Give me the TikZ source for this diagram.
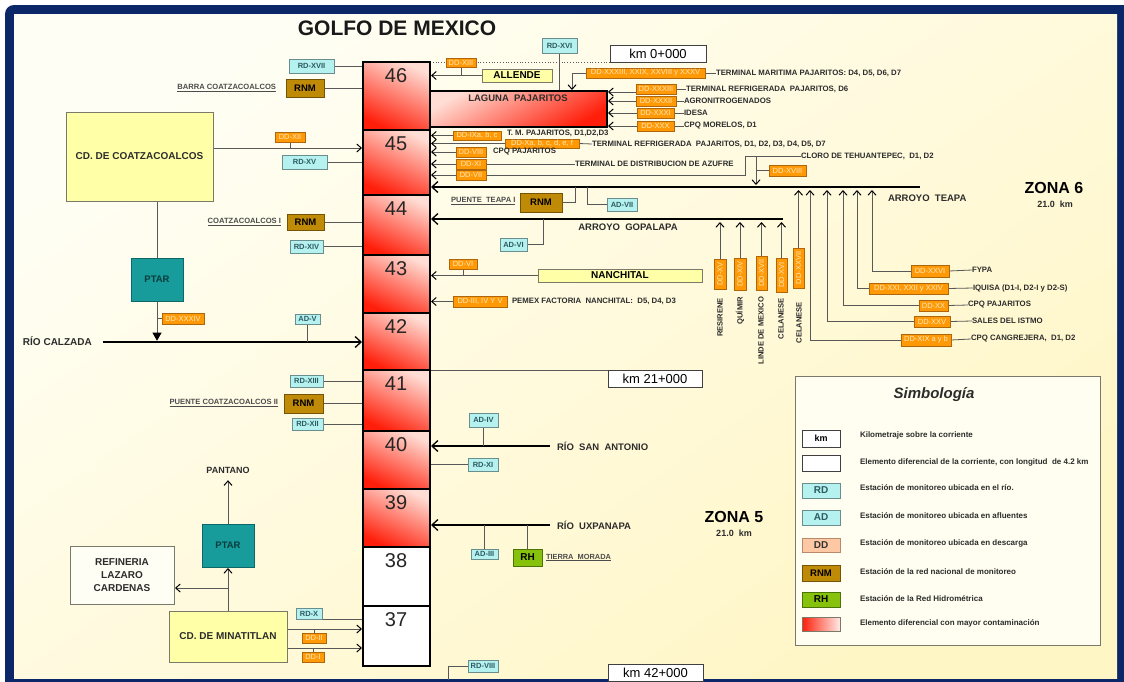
\documentclass[tikz,border=0pt]{standalone}
\usepackage{fontspec}
\setmainfont{Liberation Sans}
\usetikzlibrary{arrows.meta}

\definecolor{frameC}{HTML}{0B2768}
\definecolor{creamA}{HTML}{FFFEF4}
\definecolor{creamB}{HTML}{FFF6C6}
\definecolor{legF}{HTML}{FFFEF0}
\definecolor{cyanF}{HTML}{B4F1EF}
\definecolor{cyanD}{HTML}{6A8E8E}
\definecolor{cyanT}{HTML}{2E5A62}
\definecolor{ddF}{HTML}{FF9A06}
\definecolor{ddD}{HTML}{B0660A}
\definecolor{ddT}{HTML}{FFE8BC}
\definecolor{peachF}{HTML}{FFC8A4}
\definecolor{peachD}{HTML}{B88A6A}
\definecolor{rnmF}{HTML}{BF8A05}
\definecolor{rnmD}{HTML}{765405}
\definecolor{yelF}{HTML}{FFFFA8}
\definecolor{tealF}{HTML}{179B9B}
\definecolor{tealD}{HTML}{0D6868}
\definecolor{tealT}{HTML}{0A3C3C}
\definecolor{rhF}{HTML}{86C10C}
\definecolor{rhD}{HTML}{4C7406}
\definecolor{hotA}{HTML}{FF1E0A}
\definecolor{hotB}{HTML}{FFDDD4}
\definecolor{ink}{HTML}{2C2C2C}
\definecolor{wireC}{HTML}{585858}
\definecolor{boxD}{HTML}{7A7A6A}

\newcommand\fsz[1]{\fontsize{#1}{#1}\selectfont}
\pgfdeclarelayer{back}
\pgfdeclarelayer{wires}
\pgfsetlayers{back,wires,main}

\tikzset{
  every node/.style={inner sep=0pt, outer sep=0pt},
  wh/.style 2 args={minimum width=#1pt, minimum height=#2pt},
  nw/.style={anchor=north west},
  seghot/.style={draw=black, line width=2.2pt, top color=hotB, bottom color=hotA, shading angle=-25},
  segcold/.style={draw=black, line width=2.2pt, fill=white},
  num/.style={font=\fsz{20}, text=black!85},
  rd/.style={draw=cyanD, line width=.7pt, fill=cyanF, text=cyanT, font=\bfseries\fsz{7.5}},
  dd/.style={draw=ddD, line width=.7pt, fill=ddF, text=ddT, font=\fsz{7.5}},
  ddv/.style={dd, rotate=90},
  rnm/.style={draw=rnmD, line width=.7pt, fill=rnmF, text=black, font=\bfseries\fsz{9.5}},
  ybox/.style={draw=boxD, line width=.7pt, fill=yelF, text=black, font=\bfseries\fsz{10}},
  city/.style={draw=boxD, line width=.8pt, fill=yelF, text=ink, font=\bfseries\fsz{10}},
  ptar/.style={draw=tealD, line width=.8pt, fill=tealF, text=tealT, font=\bfseries\fsz{9.5}},
  rh/.style={draw=rhD, line width=.7pt, fill=rhF, text=black, font=\bfseries\fsz{10}},
  kmbox/.style={draw=black!75, line width=.8pt, fill=white, font=\fsz{13}},
  lbl/.style={text=ink, font=\bfseries\fsz{7.8}, anchor=west},
  vlbl/.style={text=ink, font=\bfseries\fsz{7.6}, rotate=90, anchor=east},
  stn/.style={text=ink!85, font=\bfseries\fsz{7.6}, anchor=east},
  rivlbl/.style={text=ink, font=\bfseries\fsz{10}, anchor=west},
  zona/.style={text=black, font=\bfseries\fsz{16}},
  zkm/.style={text=ink, font=\bfseries\fsz{9}},
  legtxt/.style={text=ink, font=\bfseries\fsz{8}, anchor=west},
  wire/.style={draw=wireC, line width=.8pt},
  arr/.style={wire, shorten >=1pt, -{Straight Barb[length=4.5pt,width=8pt,line width=1pt,color=black]}},
  riv/.style={draw=black, line width=2.6pt, shorten >=1pt, -{Straight Barb[length=6pt,width=11pt,line width=1.3pt]}},
}

\begin{document}
\begin{tikzpicture}[x=1pt,y=-1pt]
\useasboundingbox (0,0) rectangle (1124,681);

% frame and paper
\begin{pgfonlayer}{back}
  \fill[white] (0,0) rectangle (1124,681);
  \fill[frameC, rounded corners=9pt] (5,5) rectangle (1140,700);
  \shade[top color=creamA, bottom color=creamB, shading angle=35] (14,14) rectangle (1117,678);
\end{pgfonlayer}

\node[font=\bfseries\fsz{21}, text=black!90] (title) at (397,28) {GOLFO DE MEXICO};

% river column, one segment per 4.2 km
\node[seghot, wh={67}{68}, nw] (s46) at (363,62) {};
\node[seghot, wh={67}{65}, nw] (s45) at (363,130) {};
\node[seghot, wh={67}{60}, nw] (s44) at (363,195) {};
\node[seghot, wh={67}{58}, nw] (s43) at (363,255) {};
\node[seghot, wh={67}{57}, nw] (s42) at (363,313) {};
\node[seghot, wh={67}{61}, nw] (s41) at (363,370) {};
\node[seghot, wh={67}{58}, nw] (s40) at (363,431) {};
\node[seghot, wh={67}{58}, nw] (s39) at (363,489) {};
\node[segcold, wh={67}{59}, nw] (s38) at (363,547) {};
\node[segcold, wh={67}{60}, nw] (s37) at (363,606) {};
\node[num] (n46) at (396,76) {46};
\node[num] (n45) at (396,144) {45};
\node[num] (n44) at (396,209) {44};
\node[num] (n43) at (396,269) {43};
\node[num] (n42) at (396,327) {42};
\node[num] (n41) at (396,384) {41};
\node[num] (n40) at (396,445) {40};
\node[num] (n39) at (396,503) {39};
\node[num] (n38) at (396,561) {38};
\node[num] (n37) at (396,620) {37};

% kilometre marks
\node[kmbox, wh={96}{17}, nw] (km0) at (610,45) {km 0+000};
\node[kmbox, wh={94}{17}, nw] (km21) at (608,370) {km 21+000};
\node[kmbox, wh={95}{17}, nw] (km42) at (608,664) {km 42+000};

% Laguna Pajaritos
\node[draw=black, line width=2pt, top color=hotB, bottom color=hotA, shading angle=30, wh={177}{36}, nw] (lag) at (430,91) {};
\node[font=\bfseries\fsz{9.5}, text=ink] (lagT) at (518,98) {LAGUNA\ \ PAJARITOS};

% left bank
\node[rd, wh={45}{14}, nw] (rd17) at (289,59) {RD-XVII};
\node[rnm, wh={38}{18}, nw] (rnmA) at (286,79) {RNM};
\node[stn] (stA) at (276,88) {\underline{BARRA COATZACOALCOS}};
\node[city, wh={147}{89}, nw] (cdC) at (66,112) {CD. DE COATZACOALCOS};
\node[dd, wh={30}{10}, nw] (dd12) at (275,132) {DD-XII};
\node[rd, wh={45}{14}, nw] (rd15) at (282,155) {RD-XV};
\node[ptar, wh={52}{43}, nw] (ptar1) at (131,258) {PTAR};
\node[dd, wh={42}{11}, nw] (dd34) at (162,313) {DD-XXXIV};
\node[rd, wh={25}{10}, nw] (adV) at (295,314) {AD-V};
\node[rivlbl] (calz) at (23,341) {RÍO CALZADA};
\coordinate (calzW) at (103,342);
\node[stn] (stC1) at (281,222) {\underline{COATZACOALCOS I}};
\node[rnm, wh={37}{16}, nw] (rnmC1) at (287,214) {RNM};
\node[rd, wh={33}{13}, nw] (rd14) at (290,240) {RD-XIV};
\node[rd, wh={33}{12}, nw] (rd13) at (290,375) {RD-XIII};
\node[stn] (stC2) at (278,403) {\underline{PUENTE COATZACOALCOS II}};
\node[rnm, wh={39}{19}, nw] (rnmC2) at (284,394) {RNM};
\node[rd, wh={31}{12}, nw] (rd12) at (292,418) {RD-XII};

\node[font=\bfseries\fsz{9}, text=ink] (pant) at (228,470) {PANTANO};
\node[ptar, wh={52}{43}, nw] (ptar2) at (202,524) {PTAR};
\node[draw=boxD, line width=.8pt, fill=creamA, text=ink, font=\bfseries\fontsize{10}{13}\selectfont, align=center, wh={104}{58}, nw] (refi) at (70,546) {REFINERIA\\LAZARO\\CARDENAS};
\node[city, wh={118}{51}, nw] (cdM) at (169,611) {CD. DE MINATITLAN};
\node[rd, wh={26}{11}, nw] (rdX) at (296,608) {RD-X};
\node[dd, wh={24}{10}, nw] (dd2) at (302,633) {DD-II};
\node[dd, wh={22}{10}, nw] (dd1) at (302,652) {DD-I};

% right bank, segment 46 and the lagoon
\node[dd, wh={30}{9}, nw] (dd13) at (446,58) {DD-XIII};
\node[ybox, wh={70}{13}, nw] (allende) at (482,69) {ALLENDE};
\node[rd, wh={35}{15}, nw] (rd16) at (542,38) {RD-XVI};
\node[dd, wh={119}{10}, nw] (ddM) at (586,68) {DD-XXXIII, XXIX,\ XXVIII\ y\ XXXV};
\node[lbl] (tTM) at (716,73) {TERMINAL MARITIMA PAJARITOS: D4, D5, D6, D7};
\node[dd, wh={40}{10}, nw] (dd33) at (636,84) {DD-XXXIII};
\node[dd, wh={40}{10}, nw] (dd32) at (636,96) {DD-XXXII};
\node[dd, wh={37}{10}, nw] (dd31) at (637,108) {DD-XXXI};
\node[dd, wh={37}{10}, nw] (dd30) at (637,121) {DD-XXX};
\node[lbl] (t33) at (686,89) {TERMINAL REFRIGERADA\ \ PAJARITOS, D6};
\node[lbl] (t32) at (684,101) {AGRONITROGENADOS};
\node[lbl] (t31) at (684,113) {IDESA};
\node[lbl] (t30) at (684,126) {CPQ MORELOS, D1};

% right bank, segment 45
\node[dd, wh={48}{9}, nw] (dd9) at (453,131) {DD-IXa, b, c};
\node[lbl] (t9) at (507,133) {T. M. PAJARITOS, D1,D2,D3};
\node[dd, wh={74}{9}, nw] (dd10) at (505,139) {DD-Xa, b, c, d, e, f};
\node[lbl] (t10) at (592,144) {TERMINAL REFRIGERADA\ \ PAJARITOS, D1, D2, D3, D4, D5, D7};
\node[dd, wh={30}{10}, nw] (dd8) at (456,147) {DD-VIII};
\node[lbl] (t8) at (493,152) {CPQ PAJARITOS};
\node[dd, wh={30}{10}, nw] (dd11) at (456,159) {DD-XI};
\node[lbl] (tAz) at (575,164) {TERMINAL DE DISTRIBUCION DE AZUFRE};
\node[dd, wh={30}{10}, nw] (dd7) at (456,170) {DD-VII};
\node[lbl] (tCl) at (801,156) {CLORO DE TEHUANTEPEC,\ \ D1, D2};
\node[dd, wh={37}{11}, nw] (dd18) at (769,165) {DD-XVIII};
\coordinate (cb) at (745,175);
\coordinate (cj) at (756,156);

% Arroyo Teapa
\coordinate (teapaE) at (920,187);
\node[rivlbl, font=\bfseries\fsz{9.5}] (tTeapa) at (888,198) {ARROYO\ \ TEAPA};
\node[stn, anchor=west] (stPT) at (451,201) {\underline{PUENTE\ \ TEAPA I}};
\node[rnm, wh={42}{19}, nw] (rnmPT) at (520,193) {RNM};
\node[rd, wh={30}{13}, nw] (adVII) at (607,198) {AD-VII};
\node[dd, wh={38}{12}, nw] (dd26) at (911,265) {DD-XXVI};
\node[dd, wh={79}{11}, nw] (dd21) at (869,283) {DD-XXI, XXII y XXIV};
\node[dd, wh={29}{11}, nw] (dd20) at (919,300) {DD-XX};
\node[dd, wh={36}{11}, nw] (dd25) at (914,316) {DD-XXV};
\node[dd, wh={50}{12}, nw] (dd19) at (901,334) {DD-XIX a y b};
\node[ddv, wh={40}{11}] (dd27) at (798.5,268) {DD-XXVII};
\node[vlbl] (vCel2) at (799,302) {CELANESE};
\node[lbl] (tFy) at (972,270) {FYPA};
\node[lbl] (tIq) at (973,288) {IQUISA (D1-I, D2-I y D2-S)};
\node[lbl] (tCpq) at (968,305) {CPQ PAJARITOS};
\node[lbl] (tSal) at (972,321) {SALES DEL ISTMO};
\node[lbl] (tCan) at (971,339) {CPQ CANGREJERA,\ \ D1, D2};

% Arroyo Gopalapa
\coordinate (gopE) at (783,219);
\node[font=\bfseries\fsz{9.5}, text=ink] (tGop) at (628,227) {ARROYO\ \ GOPALAPA};
\node[rd, wh={27}{13}, nw] (adVI) at (500,238) {AD-VI};
\node[ddv, wh={30}{12}] (d15) at (720,274) {DD-XV};
\node[ddv, wh={32}{12}] (d14) at (740,274) {DD-XIV};
\node[ddv, wh={34}{11}] (d17) at (761.5,273) {DD-XVII};
\node[ddv, wh={34}{11}] (d16) at (781.5,275) {DD-XVI};
\node[vlbl] (vRes) at (720,298) {RESIRENE};
\node[vlbl] (vQui) at (740,297) {QUÍMIR};
\node[vlbl] (vLin) at (761,297) {LINDE DE MEXICO};
\node[vlbl] (vCel1) at (781,298) {CELANESE};

% segment 43
\node[dd, wh={28}{10}, nw] (dd6) at (449,259) {DD-VI};
\node[ybox, wh={164}{13}, nw] (nanch) at (538,269) {NANCHITAL};
\node[dd, wh={54}{11}, nw] (dd3) at (453,296) {DD-III, IV Y V};
\node[lbl] (tPem) at (512,301.5) {PEMEX FACTORIA\ \ NANCHITAL:\ \ D5, D4, D3};

% lower tributaries
\coordinate (saE) at (550,446);
\node[rivlbl, font=\bfseries\fsz{9.5}] (tSA) at (557,446) {RÍO\ \ SAN\ \ ANTONIO};
\node[rd, wh={29}{14}, nw] (adIV) at (469,413) {AD-IV};
\node[rd, wh={30}{13}, nw] (rd11) at (468,458) {RD-XI};
\coordinate (uxE) at (550,525);
\node[rivlbl, font=\bfseries\fsz{9.5}] (tUx) at (557,525) {RÍO\ \ UXPANAPA};
\node[rd, wh={27}{10}, nw] (adIII) at (471,549) {AD-III};
\node[rh, wh={29}{17}, nw] (rh) at (513,549) {RH};
\node[stn, anchor=west, font=\bfseries\fsz{7.4}] (stTM) at (546,557.5) {\underline{TIERRA\ \ MORADA}};
\node[rd, wh={30}{12}, nw] (rd8) at (468,660) {RD-VIII};

% zones
\node[zona] (z6) at (1054,188) {ZONA 6};
\node[zkm] (z6k) at (1055,204) {21.0\ \ km};
\node[zona] (z5) at (734,517) {ZONA 5};
\node[zkm] (z5k) at (734,533) {21.0\ \ km};

% legend
\node[draw=boxD, line width=.8pt, fill=legF, wh={305}{269}, nw] (leg) at (795,376) {};
\node[font=\bfseries\itshape\fsz{15}, text=ink] (legT) at (934,395) {Simbología};
\node[kmbox, font=\bfseries\fsz{9}, wh={38}{17}, nw] (lg1) at (802,430) {km};
\node[kmbox, wh={38}{16}, nw] (lg2) at (802,455) {};
\node[rd, font=\bfseries\fsz{10}, wh={38}{15}, nw] (lg3) at (802,483) {RD};
\node[rd, font=\bfseries\fsz{10}, wh={38}{15}, nw] (lg4) at (802,510) {AD};
\node[draw=peachD, line width=.7pt, fill=peachF, font=\bfseries\fsz{10}, text=black!80, wh={38}{14}, nw] (lg5) at (802,538) {DD};
\node[rnm, wh={38}{16}, nw] (lg6) at (802,565) {RNM};
\node[rh, wh={38}{15}, nw] (lg7) at (802,592) {RH};
\node[draw=boxD, line width=.7pt, left color=hotA, right color=hotB!60!white, wh={38}{14}, nw] (lg8) at (802,617) {};
\node[legtxt] (lt1) at (860,435) {Kilometraje sobre la corriente};
\node[legtxt] (lt2) at (860,462) {Elemento diferencial de la corriente, con longitud\ \ de 4.2 km};
\node[legtxt] (lt3) at (860,488) {Estación de monitoreo ubicada en el río.};
\node[legtxt] (lt4) at (860,516) {Estación de monitoreo ubicada en afluentes};
\node[legtxt] (lt5) at (860,543) {Estación de monitoreo ubicada en descarga};
\node[legtxt] (lt6) at (860,572) {Estación de la red nacional de monitoreo};
\node[legtxt] (lt7) at (860,599) {Estación de la Red Hidrométrica};
\node[legtxt] (lt8) at (860,623) {Elemento diferencial con mayor contaminación};

\begin{pgfonlayer}{wires}
  \draw[boxD, line width=.8pt] (leg.west |- 0,411) -- (leg.east |- 0,411);

  % left bank connectors
  \draw[wire] (rd17.east) -- (s46.west |- rd17.east);
  \draw[wire] (rnmA.east) -- (s46.west |- rnmA.east);
  \draw[arr] (cdC.east |- 0,148) -- (s45.west |- 0,148);
  \draw[wire] (dd12.south) -- (dd12.south |- 0,148);
  \draw[wire] (rd15.east) -- (s45.west |- rd15.east);
  \draw[wire] (ptar1.north) -- (ptar1.north |- cdC.south);
  \draw[wire, shorten >=1.3pt, -{Triangle[length=8pt,width=9pt,color=black]}] (ptar1.south) -- (ptar1.south |- calzW);
  \draw[wire] (ptar1.south |- dd34.west) -- (dd34.west);
  \draw[riv] (calzW) -- (s42.west |- calzW);
  \draw[wire] (adV.south) -- (adV.south |- calzW);
  \draw[wire] (rnmC1.east) -- (s44.west |- rnmC1.east);
  \draw[wire] (rd14.east) -- (s44.west |- rd14.east);
  \draw[wire] (rd13.east) -- (s41.west |- rd13.east);
  \draw[wire] (rnmC2.east) -- (s41.west |- rnmC2.east);
  \draw[wire] (rd12.east) -- (s41.west |- rd12.east);

  \draw[arr] (ptar2.north) -- ([yshift=-6pt]pant.south);
  \draw[arr] (cdM.north) -- (ptar2.south);
  \draw[arr] (cdM.north |- 0,588) -- (refi.east |- 0,588);
  \draw[wire] (rdX.south east) -- (s37.west |- rdX.south east);
  \draw[arr] (cdM.east |- 0,629) -- (s37.west |- 0,629);
  \draw[wire] (dd2.north) -- (dd2.north |- 0,629);
  \draw[arr] (cdM.east |- 0,648) -- (s37.west |- 0,648);
  \draw[wire] (dd1.north) -- (dd1.north |- 0,648);

  % kilometre leaders
  \draw[wire, dotted] (s46.north east) -- (km0.south west);
  \draw[wire] (s41.north east) -- (km21.north east);

  % segment 46 and lagoon
  \draw[wire] (dd13.south) -- (dd13.south |- allende.west);
  \draw[arr] (allende.west) -- (s46.east |- allende.west);
  \draw[wire] (rd16.south) -- (rd16.south |- lag.north);
  \draw[arr] (ddM.west) -| (lag.north -| 572,0);
  \draw[wire] (ddM.east) -- (tTM.west);
  \draw[arr] (dd33.west |- 0,92) -- (lag.east |- 0,92);
  \draw[arr] (dd32.west) -- (lag.east |- dd32.west);
  \draw[arr] (dd31.west) -- (lag.east |- dd31.west);
  \draw[arr] (dd30.west) -- (lag.east |- dd30.west);
  \draw[wire] (dd33.east) -- (t33.west);
  \draw[wire] (dd32.east) -- (t32.west);
  \draw[wire] (dd31.east) -- (t31.west);
  \draw[wire] (dd30.east) -- (t30.west);

  % segment 45
  \draw[arr] (dd9.west) -- (s45.east |- dd9.west);
  \draw[arr] (dd10.west) -- (s45.east |- dd10.west);
  \draw[wire] (dd10.east) -- (t10.west);
  \draw[arr] (dd8.west) -- (s45.east |- dd8.west);
  \draw[arr] (tAz.west) -- (s45.east |- tAz.west);
  \draw[arr] (tCl.west) -| (cb) -- (s45.east |- cb);
  \draw[arr, shorten >=2pt] (cj) -- (cj |- teapaE);
  \draw[wire] (cj |- dd18.west) -- (dd18.west);

  % Arroyo Teapa and its discharges
  \draw[riv] (teapaE) -- (s45.east |- teapaE);
  \draw[wire] (rnmPT.east) -| (575,187);
  \draw[wire] (587,187) |- (adVII.west);
  \draw[arr] (dd26.west) -| (872,189);
  \draw[arr] (dd21.west) -| (857,189);
  \draw[arr] (dd20.west) -| (843,189);
  \draw[arr] (dd25.west) -| (827,189);
  \draw[arr] (dd19.west) -| (810,189);
  \draw[arr] (dd27.east) -- (dd27.east |- 0,189);
  \draw[wire] (dd26.east) -- (tFy.west);
  \draw[wire] (dd21.east) -- (tIq.west);
  \draw[wire] (dd20.east) -- (tCpq.west);
  \draw[wire] (dd25.east) -- (tSal.west);
  \draw[wire] (dd19.east) -- (tCan.west);

  % Arroyo Gopalapa and its discharges
  \draw[riv] (gopE) -- (s44.east |- gopE);
  \draw[wire] (adVI.east) -| (543,219);
  \draw[arr] (d15.east) -- (d15.east |- 0,221);
  \draw[arr] (d14.east) -- (d14.east |- 0,221);
  \draw[arr] (d17.east) -- (d17.east |- 0,221);
  \draw[arr] (d16.east) -- (d16.east |- 0,221);

  % segment 43
  \draw[wire] (dd6.south) -- (dd6.south |- nanch.west);
  \draw[arr] (nanch.west) -- (s43.east |- nanch.west);
  \draw[arr] (dd3.west) -- (s43.east |- dd3.west);

  % lower tributaries
  \draw[riv] (saE) -- (s40.east |- saE);
  \draw[wire] (adIV.south) -- (adIV.south |- saE);
  \draw[wire] (s40.east |- rd11.west) -- (rd11.west);
  \draw[riv] (uxE) -- (s39.east |- uxE);
  \draw[wire] (adIII.north) -- (adIII.north |- uxE);
  \draw[wire] (rh.north) -- (rh.north |- uxE);
  \draw[wire] (rd8.west) -| (448,680);
\end{pgfonlayer}
\end{tikzpicture}
\end{document}
